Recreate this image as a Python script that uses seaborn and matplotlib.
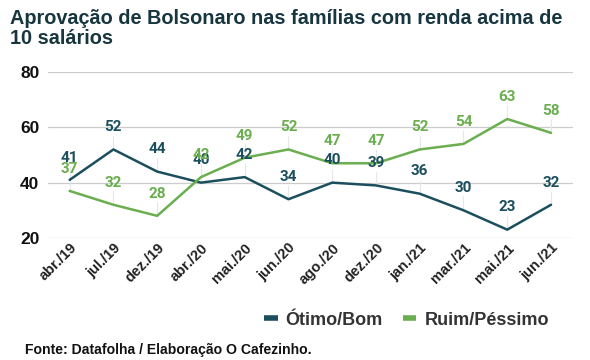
import matplotlib
matplotlib.use("Agg")
import matplotlib.pyplot as plt
import pandas as pd
import seaborn as sns

months = ["abr./19", "jul./19", "dez./19", "abr./20", "mai./20", "jun./20",
          "ago./20", "dez./20", "jan./21", "mar./21", "mai./21", "jun./21"]
otimo_bom = [41, 52, 44, 40, 42, 34, 40, 39, 36, 30, 23, 32]
ruim_pessimo = [37, 32, 28, 42, 49, 52, 47, 47, 52, 54, 63, 58]

series_names = ["Ótimo/Bom", "Ruim/Péssimo"]
colors = ["#1b4f5e", "#6aae4f"]

df = pd.concat([
    pd.DataFrame({"pos": range(len(months)), "valor": otimo_bom, "serie": series_names[0]}),
    pd.DataFrame({"pos": range(len(months)), "valor": ruim_pessimo, "serie": series_names[1]}),
])

sns.set_theme(style="whitegrid")
plt.rcParams["font.family"] = ["Liberation Sans", "DejaVu Sans"]

fig = plt.figure(figsize=(5.9, 3.6), dpi=100)
ax = fig.add_axes([0.081, 0.339, 0.89, 0.461])

sns.lineplot(data=df, x="pos", y="valor", hue="serie", palette=colors,
             linewidth=1.8, ax=ax, legend=False)

# value labels with a faint stem
for vals, col in zip([otimo_bom, ruim_pessimo], colors):
    for i, v in enumerate(vals):
        ax.vlines(i, v, v + 5, color="#e6e6e6", linewidth=0.8, zorder=1)
        ax.annotate(str(v), (i, v), xytext=(0, 16), textcoords="offset points",
                    ha="center", va="center", color=col, fontsize=11,
                    fontweight="bold", family=["Roboto", "DejaVu Sans"], zorder=5)

ax.set_xlim(-0.5, len(months) - 0.5)
ax.set_ylim(20, 80)
ax.set_yticks([20, 40, 60, 80])
ax.set_xticks(range(len(months)))
ax.set_xticklabels(months, rotation=45, ha="right", rotation_mode="anchor",
                   fontsize=10.5, fontweight="bold", color="#222222")
ax.tick_params(axis="y", labelsize=12.5, pad=6, length=0)
ax.tick_params(axis="x", pad=2, length=0)
for lab in ax.get_yticklabels():
    lab.set_fontweight("bold")
    lab.set_color("#111111")
ax.set_xlabel("")
ax.set_ylabel("")
ax.grid(axis="x", visible=False)
ax.grid(axis="y", color="#cccccc", linewidth=0.9)
for s in ax.spines.values():
    s.set_visible(False)

handles = [plt.Line2D([], [], color=c, linewidth=4, solid_capstyle="butt") for c in colors]
fig.legend(handles, series_names, loc="center right", bbox_to_anchor=(0.958, 0.111),
           ncol=2, frameon=False, handlelength=0.75, handletextpad=0.45,
           columnspacing=1.1, prop={"size": 13, "weight": "bold"},
           labelcolor="#333333")

fig.text(0.017, 0.975, "Aprovação de Bolsonaro nas famílias com renda acima de\n10 salários",
         ha="left", va="top", fontsize=14.3, fontweight="bold", color="#17363f",
         linespacing=1.05)
fig.text(0.042, 0.028, "Fonte: Datafolha / Elaboração O Cafezinho.", ha="left", va="center",
         fontsize=10.1, fontweight="bold", color="#111111")

fig.savefig("out.png", dpi=100)
